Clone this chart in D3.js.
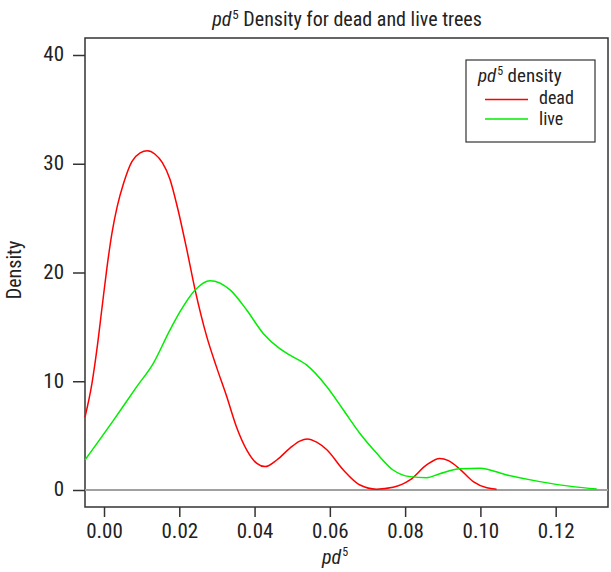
<!DOCTYPE html>
<html>
<head>
<meta charset="utf-8">
<script src="https://cdn.jsdelivr.net/npm/d3@7"></script>
<style>
  html, body { margin: 0; padding: 0; background: #fff; }
  svg { display: block; font-family: "Liberation Sans Narrow", "Arial Narrow", "Roboto Condensed", sans-serif; }
</style>
</head>
<body>
<svg id="chart" width="611" height="572"></svg>
<script>
// Kernel density estimates of pd^5 for dead and live trees
const deadX = [-0.00505, -0.0032, -0.0019, -0.0005, 0.0008, 0.0021, 0.0035, 0.0052, 0.0074, 0.0096, 0.0115, 0.0135, 0.0155, 0.0175, 0.0195, 0.0220, 0.0242, 0.0273, 0.0299, 0.0326, 0.0352, 0.0379, 0.0406, 0.0428, 0.0459, 0.0494, 0.0520, 0.0540, 0.0565, 0.0592, 0.0636, 0.0680, 0.0724, 0.0768, 0.0813, 0.0857, 0.0892, 0.0915, 0.0946, 0.0981, 0.1017, 0.1043];
const deadY = [6.7, 9.8, 12.9, 16.85, 20.5, 23.6, 26.05, 28.2, 30.2, 31.0, 31.2, 30.9, 30.1, 28.6, 26.0, 22.1, 18.4, 14.1, 11.3, 8.6, 5.8, 3.7, 2.45, 2.15, 2.76, 3.85, 4.5, 4.7, 4.4, 3.7, 1.84, 0.46, 0.08, 0.25, 0.92, 2.3, 2.9, 2.7, 1.9, 0.77, 0.2, 0.08];

const liveX = [-0.00505, 0.0025, 0.0087, 0.0131, 0.0175, 0.0202, 0.0242, 0.0282, 0.0335, 0.0379, 0.0423, 0.0467, 0.0494, 0.0538, 0.0592, 0.0636, 0.0680, 0.0724, 0.0768, 0.0813, 0.0857, 0.0892, 0.0946, 0.0999, 0.1070, 0.1158, 0.1246, 0.1309];
const liveY = [2.76, 6.4, 9.5, 11.65, 14.7, 16.4, 18.4, 19.25, 18.4, 16.55, 14.4, 13.0, 12.4, 11.5, 9.5, 7.36, 5.2, 3.4, 1.84, 1.23, 1.13, 1.5, 1.95, 2.0, 1.38, 0.77, 0.31, 0.1];

const xTicks = [0, 0.02, 0.04, 0.06, 0.08, 0.10, 0.12];
const yTicks = [0, 10, 20, 30, 40];
const seriesNames = ["dead", "live"];
const seriesColors = ["#ff0000", "#00ee00"];

const svg = d3.select("#chart");
const frame = { left: 85, right: 608, top: 38, bottom: 507 };

const x = d3.scaleLinear().domain([-0.00505, 0.1339]).range([frame.left, frame.right]);
const y = d3.scaleLinear().domain([0, 40]).range([490, 55]);

// Plot frame
svg.append("rect")
  .attr("x", frame.left).attr("y", frame.top)
  .attr("width", frame.right - frame.left).attr("height", frame.bottom - frame.top)
  .attr("fill", "none").attr("stroke", "#333").attr("stroke-width", 1.5);

// Zero reference line
svg.append("line")
  .attr("x1", frame.left).attr("x2", frame.right)
  .attr("y1", y(0)).attr("y2", y(0))
  .attr("stroke", "#a0a0a0").attr("stroke-width", 2);

// Density curves
const line = d3.line().x(d => x(d[0])).y(d => y(d[1])).curve(d3.curveMonotoneX);
const series = [d3.zip(deadX, deadY), d3.zip(liveX, liveY)];
series.forEach((pts, i) => {
  svg.append("path")
    .datum(pts)
    .attr("d", line)
    .attr("fill", "none")
    .attr("stroke", seriesColors[i])
    .attr("stroke-width", 1.5);
});

// Axes
const xAxis = d3.axisBottom(x).tickValues(xTicks).tickFormat(d3.format(".2f")).tickSize(10).tickPadding(6);
const gx = svg.append("g").attr("transform", `translate(0,${frame.bottom})`).call(xAxis)
  .attr("font-family", null).attr("font-size", null);
gx.select(".domain").remove();
gx.selectAll(".tick line").attr("stroke", "#333").attr("stroke-width", 1.5);
gx.selectAll(".tick text").attr("font-size", 21).attr("fill", "#222");

const yAxis = d3.axisLeft(y).tickValues(yTicks).tickSize(12).tickPadding(9);
const gy = svg.append("g").attr("transform", `translate(${frame.left},0)`).call(yAxis)
  .attr("font-family", null).attr("font-size", null);
gy.select(".domain").remove();
gy.selectAll(".tick line").attr("stroke", "#333").attr("stroke-width", 1.5);
gy.selectAll(".tick text").attr("font-size", 21).attr("fill", "#222").attr("dy", "0.28em");

// Text with an italic base and a superscript "5", drawn as separate pieces
function supLabel(g, xPos, yBase, size, supSize, supRise, rest, anchor) {
  const base = g.append("text").attr("y", yBase).attr("font-size", size)
    .attr("font-style", "italic").attr("fill", "#222").text("pd");
  const sup = g.append("text").attr("y", yBase - supRise).attr("font-size", supSize)
    .attr("fill", "#222").text("5");
  const tail = rest ? g.append("text").attr("y", yBase).attr("font-size", size)
    .attr("fill", "#222").attr("xml:space", "preserve").text(rest) : null;
  const w1 = base.node().getComputedTextLength() + 1;
  const w2 = sup.node().getComputedTextLength();
  const w3 = tail ? tail.node().getComputedTextLength() : 0;
  const total = w1 + w2 + w3;
  const x0 = anchor === "middle" ? xPos - total / 2 : xPos;
  base.attr("x", x0);
  sup.attr("x", x0 + w1);
  if (tail) tail.attr("x", x0 + w1 + w2);
}

// Title
supLabel(svg, 347, 26, 20, 13, 7, " Density for dead and live trees", "middle");

// Axis titles
svg.append("text")
  .attr("transform", "translate(21,270) rotate(-90)")
  .attr("text-anchor", "middle").attr("font-size", 20).attr("fill", "#222")
  .text("Density");

supLabel(svg, 335, 564, 20, 12, 8, null, "middle");

// Legend
const lg = svg.append("g");
lg.append("rect")
  .attr("x", 466).attr("y", 60).attr("width", 129).attr("height", 82)
  .attr("fill", "#fff").attr("stroke", "#333").attr("stroke-width", 1.2);
supLabel(lg, 478, 82, 19, 12, 7, " density", "start");
seriesNames.forEach((name, i) => {
  const ly = 99.5 + i * 19.5;
  lg.append("line")
    .attr("x1", 485).attr("x2", 528).attr("y1", ly).attr("y2", ly)
    .attr("stroke", seriesColors[i]).attr("stroke-width", 1.5);
  lg.append("text")
    .attr("x", 539).attr("y", 104 + i * 21)
    .attr("font-size", 18).attr("fill", "#222")
    .text(name);
});
</script>
</body>
</html>
